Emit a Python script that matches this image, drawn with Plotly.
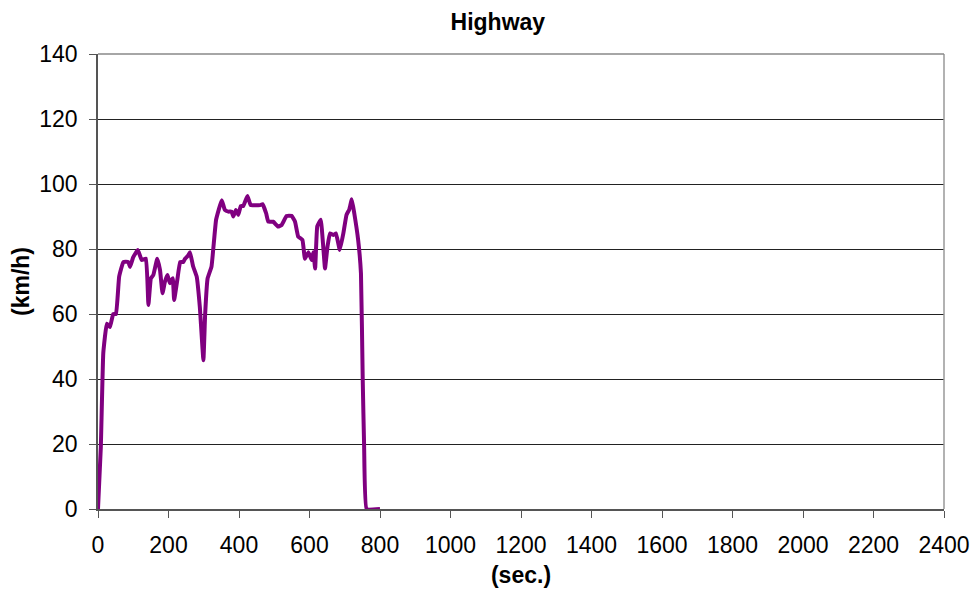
import plotly.graph_objects as go

time_s = [0, 8, 15, 25, 34, 43, 51, 60, 72, 86, 91, 100, 113, 124, 136, 143, 150, 157,
          168, 176, 183, 190, 197, 204, 212, 216, 225, 233, 242, 247, 256, 261, 270, 280,
          289, 299, 304, 311, 322, 335, 351, 360, 370, 379, 384, 391, 398, 405, 412, 424,
          433, 445, 460, 467, 477, 483, 497, 511, 521, 535, 549, 559, 568, 580, 587, 597,
          606, 611, 616, 622, 632, 639, 644, 651, 658, 668, 675, 686, 696, 705, 713, 720,
          727, 738, 746, 751, 755, 762, 800]
speed_kmh = [0, 19, 48, 57, 56, 60, 60, 71.5, 76, 76, 74.5, 77.5, 79.7, 76.6, 77, 62.8, 71, 72,
             77, 73.5, 66.4, 70, 72, 69.5, 71, 64.3, 70.5, 76, 76, 77, 78, 79, 74.6, 71.5,
             62, 45.8, 60, 71, 74.6, 89, 95, 92, 91.5, 91.5, 90, 92, 90.5, 93.2, 93.2, 96.3,
             93.5, 93.5, 93.5, 93.8, 91, 88.4, 88.4, 86.9, 87.4, 90.2, 90.2, 88.4, 83.8, 82.8, 77, 79,
             76.6, 79, 74, 87, 89, 80.7, 74, 80.7, 84.8, 84.3, 84.8, 79.7, 84.8, 90.5, 92.2, 95.3,
             91, 82.8, 72.5, 39.7, 19, 0, 0]

x_ticks = list(range(0, 2401, 200))
y_ticks = list(range(0, 141, 20))

family = "Liberation Sans, Arial, sans-serif"
W, H = 970, 588

fig = go.Figure()
fig.add_trace(go.Scatter(x=time_s, y=speed_kmh, mode="lines",
                         line=dict(color="#800080", width=4, shape="spline", smoothing=0.3),
                         hoverinfo="x+y"))

fig.update_layout(
    width=W, height=H,
    margin=dict(l=90, r=34, t=46, b=87, autoexpand=False),
    paper_bgcolor="white", plot_bgcolor="white",
    showlegend=False,
    font=dict(family=family, size=23, color="black"),
    title=dict(text="<b>Highway</b>", x=0.505, xanchor="center",
               yref="container", y=1 - 14 / H, yanchor="middle",
               font=dict(size=23, color="black", family=family)),
    xaxis=dict(range=[0, 2400], tickvals=x_ticks, ticktext=[str(v) for v in x_ticks],
               showgrid=False, zeroline=False, showline=True, linecolor="#555555", linewidth=1.5,
               mirror=False, ticks="outside", ticklen=7, tickcolor="#555555", automargin=False,
               ticklabelstandoff=8,
               title=dict(text="<b>(sec.)</b>", standoff=10, font=dict(size=23)),
               tickfont=dict(size=23)),
    yaxis=dict(range=[0, 140], tickvals=y_ticks, ticktext=[str(v) for v in y_ticks],
               showgrid=True, gridcolor="#222222", gridwidth=1, automargin=False,
               zeroline=False, showline=True, linecolor="#555555", linewidth=1.5,
               ticks="outside", ticklen=7, tickcolor="#555555", ticklabelstandoff=7,
               title=dict(text="<b>(km/h)</b>", standoff=12, font=dict(size=23)),
               tickfont=dict(size=23)),
    shapes=[dict(type="line", xref="paper", yref="paper", x0=1, x1=1, y0=0, y1=1,
                 line=dict(color="#999999", width=1.5)),
            dict(type="line", xref="paper", yref="paper", x0=0, x1=1, y0=1, y1=1,
                 line=dict(color="#888888", width=1.5))],
)

fig.write_html("out.html")
